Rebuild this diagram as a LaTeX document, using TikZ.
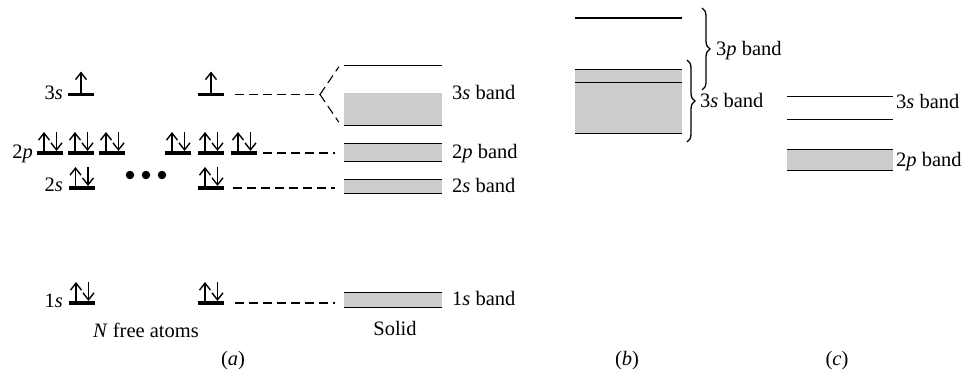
\documentclass[tikz,border=0pt]{standalone}
\usepackage{fontspec}
\setmainfont{Liberation Serif}
\usetikzlibrary{arrows.meta, decorations.pathreplacing, calc}
\definecolor{cBand}{HTML}{CCCCCC}
\newcommand{\lblfont}{\fontsize{20.5}{24}\selectfont}

\begin{document}
\begin{tikzpicture}[x=1pt, y=-1pt,
    atomlevel/.style={fill=black, inner sep=0pt, minimum width=26pt, minimum height=3.6pt},
    spin/.style={line width=1.4pt, -{Straight Barb[length=7pt, width=11pt]}},
    bandfill/.style={fill=cBand, inner sep=0pt, minimum width=98pt},
    bandedge/.style={line width=1.1pt},
    levellink/.style={line width=1.1pt, dash pattern=on 9pt off 5pt},
    lbl/.style={font=\lblfont, inner sep=0pt},
    dot/.style={circle, fill=black, inner sep=0pt, minimum size=8.5pt},
    bandbrace/.style={line width=1.3pt, decorate, decoration={brace, amplitude=8pt}},
  ]
  \useasboundingbox (0,0) rectangle (966,373);

  % (a) free atoms: levels
  \node[atomlevel] (a3s1) at (81,94.5) {};
  \node[atomlevel] (a3s2) at (211,94.5) {};
  \foreach \x/\n in {50/1, 81/2, 112/3, 178/4, 211/5, 244/6}
    \node[atomlevel] (a2p\n) at (\x,153) {};
  \node[atomlevel] (a2s1) at (81.5,188) {};
  \node[atomlevel] (a2s2) at (211,188) {};
  \node[atomlevel] (a1s1) at (82,303) {};
  \node[atomlevel] (a1s2) at (211,303) {};
  % electrons
  \foreach \b in {a3s1, a3s2}
    \draw[spin] (\b.north) -- ([yshift=21pt]\b.north);
  \foreach \b in {a2p1, a2p2, a2p3, a2p4, a2p5, a2p6, a2s1, a2s2, a1s1, a1s2} {
    \draw[spin] ([xshift=-6pt]\b.north) -- ([xshift=-6pt, yshift=19pt]\b.north);
    \draw[spin] ([xshift=6.5pt, yshift=19pt]\b.north) -- ([xshift=6.5pt]\b.north);
  }
  \foreach \x/\n in {130/1, 146/2, 162/3}
    \node[dot] (dot\n) at (\x,175) {};
  \node[lbl, anchor=base east] (l3s) at (63,99) {3\textit{s}};
  \node[lbl, anchor=base east] (l2p) at (33,158) {2\textit{p}};
  \node[lbl, anchor=base east] (l2s) at (63,191) {2\textit{s}};
  \node[lbl, anchor=base east] (l1s) at (63,307) {1\textit{s}};
  \node[lbl, anchor=base] (lfree) at (146,337) {\textit{N} free atoms};

  % (a) solid: bands
  \node[bandfill, fill=none, minimum height=59pt] (a3sband) at (393,95.5) {};
  \node[bandfill, minimum height=32pt] (a3sgray) at (393,109) {};
  \draw[bandedge] (a3sband.north west) -- (a3sband.north east)
                  (a3sband.south west) -- (a3sband.south east);
  \foreach \nm/\cy/\h in {a2pband/152.5/17, a2sband/186.5/13, a1sband/300/14} {
    \node[bandfill, minimum height=\h pt] (\nm) at (393,\cy) {};
    \draw[bandedge] (\nm.north west) -- (\nm.north east)
                    (\nm.south west) -- (\nm.south east);
  }
  \node[lbl, anchor=base west] (la3s) at (452,99) {3\textit{s} band};
  \node[lbl, anchor=base west] (la2p) at (452,158) {2\textit{p} band};
  \node[lbl, anchor=base west] (la2s) at (452,192) {2\textit{s} band};
  \node[lbl, anchor=base west] (la1s) at (452,305) {1\textit{s} band};
  \node[lbl, anchor=base] (lsolid) at (395,335) {Solid};

  % (a) atom levels to bands
  \coordinate (split) at (320,94.5);
  \draw[levellink] ([xshift=11pt]a3s2.east) -- (split);
  \draw[levellink] (split) -- ([xshift=-5pt, yshift=-1pt]a3sband.north west);
  \draw[levellink] (split) -- ([xshift=-5pt, yshift=3pt]a3sband.south west);
  \draw[levellink] ([xshift=6pt]a2p6.east) -- ([xshift=-9pt]a2pband.west |- a2p6.east);
  \draw[levellink] ([xshift=9pt]a2s2.east) -- ([xshift=-9pt]a2sband.west |- a2s2.east);
  \draw[levellink] ([xshift=11pt]a1s2.east) -- ([xshift=-9pt]a1sband.west |- a1s2.east);

  % (b) overlapping bands
  \node[bandfill, fill=none, minimum width=107pt, minimum height=0pt] (b3ptop) at (628.5,18) {};
  \draw[bandedge] (b3ptop.west) -- (b3ptop.east);
  \node[bandfill, minimum width=107pt, minimum height=63pt] (b3sgray) at (628.5,101.5) {};
  \draw[bandedge] (b3sgray.north west) -- (b3sgray.north east)
                  ([yshift=-13pt]b3sgray.north west) -- ([yshift=-13pt]b3sgray.north east)
                  (b3sgray.south west) -- (b3sgray.south east);
  \coordinate (br3pT) at (702,8);
  \coordinate (br3pB) at (702,90);
  \coordinate (br3sT) at (687,60);
  \coordinate (br3sB) at (687,142);
  \draw[bandbrace] (br3pT) -- (br3pB);
  \draw[bandbrace] (br3sT) -- (br3sB);
  \node[lbl, anchor=base west] (lb3p) at (716,55) {3\textit{p} band};
  \node[lbl, anchor=base west] (lb3s) at (700,107) {3\textit{s} band};

  % (c) separated bands
  \node[bandfill, fill=none, minimum width=106pt, minimum height=22pt] (c3sband) at (840,108) {};
  \node[bandfill, minimum width=106pt, minimum height=20pt] (c2pband) at (840,160) {};
  \foreach \nm in {c3sband, c2pband}
    \draw[bandedge] (\nm.north west) -- (\nm.north east)
                    (\nm.south west) -- (\nm.south east);
  \node[lbl, anchor=base west] (lc3s) at (896,108) {3\textit{s} band};
  \node[lbl, anchor=base west] (lc2p) at (896,166) {2\textit{p} band};

  % captions
  \node[lbl, anchor=base] (capa) at (233,365) {(\textit{a})};
  \node[lbl, anchor=base] (capb) at (627,365) {(\textit{b})};
  \node[lbl, anchor=base] (capc) at (837,365) {(\textit{c})};
\end{tikzpicture}
\end{document}
